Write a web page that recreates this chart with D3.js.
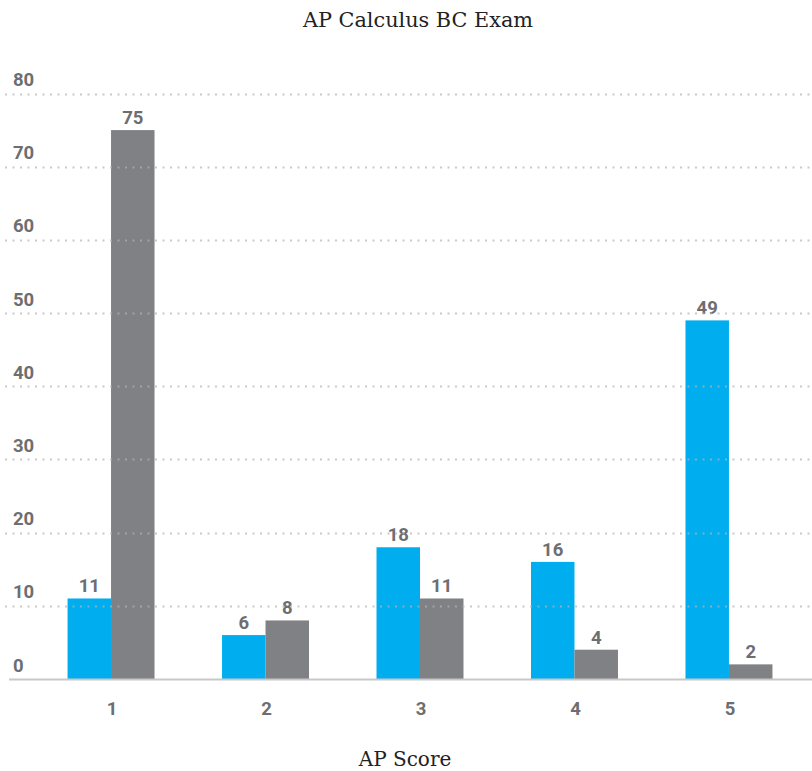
<!DOCTYPE html>
<html>
<head>
<meta charset="utf-8">
<script src="https://cdn.jsdelivr.net/npm/d3@7"></script>
<style>
  html, body { margin: 0; padding: 0; background: #fff; }
  svg { display: block; }
</style>
</head>
<body>
<svg id="chart" width="812" height="771"></svg>
<script>
// AP score buckets and the two series per score
const scores = ["1", "2", "3", "4", "5"];
const seriesA = [11, 6, 18, 16, 49];   // blue bars
const seriesB = [75, 8, 11, 4, 2];     // gray bars
const yTicks = [0, 10, 20, 30, 40, 50, 60, 70, 80];

const chartTitle = "AP Calculus BC Exam";
const xTitle = "AP Score";

const W = 812, H = 771;
const svg = d3.select("#chart");

const blue = "#00aeef";
const gray = "#808184";
const labelColor = "#6d6e71";
const numFont = "Roboto, 'Liberation Sans', sans-serif";
const serifFont = "'DejaVu Serif', serif";

const y = d3.scaleLinear().domain([0, 80]).range([679, 93.5]);

const x = d3.scaleBand()
  .domain(scores)
  .range([9, 831])
  .paddingInner(0.437)
  .paddingOuter(0.379);

const inner = d3.scaleBand()
  .domain(["a", "b"])
  .range([0, x.bandwidth()]);

// Title
svg.append("text")
  .attr("x", 418).attr("y", 27)
  .attr("text-anchor", "middle")
  .attr("font-family", serifFont)
  .attr("font-size", 20.8)
  .attr("fill", "#222")
  .text(chartTitle);

// Bars
const rows = scores.map((s, i) => ({ score: s, a: seriesA[i], b: seriesB[i] }));
const groups = svg.append("g").selectAll("g")
  .data(rows).join("g")
  .attr("transform", d => `translate(${x(d.score)},0)`);

groups.selectAll("rect")
  .data(d => [{ k: "a", v: d.a }, { k: "b", v: d.b }])
  .join("rect")
  .attr("x", d => inner(d.k))
  .attr("width", inner.bandwidth())
  .attr("y", d => y(d.v))
  .attr("height", d => y(0) - y(d.v))
  .attr("fill", d => d.k === "a" ? blue : gray);

// Value labels
groups.selectAll("text.val")
  .data(d => [{ k: "a", v: d.a }, { k: "b", v: d.b }])
  .join("text")
  .attr("class", "val")
  .attr("x", d => inner(d.k) + inner.bandwidth() / 2)
  .attr("y", d => y(d.v) - 6)
  .attr("text-anchor", "middle")
  .attr("font-family", numFont)
  .attr("font-weight", "bold")
  .attr("font-size", 18.5)
  .attr("fill", labelColor)
  .text(d => d.v);

// Dotted gridlines (drawn over bars)
const grid = svg.append("g");
grid.selectAll("line")
  .data(yTicks.filter(t => t > 0))
  .join("line")
  .attr("x1", 5).attr("x2", W)
  .attr("y1", d => Math.round(y(d)) + 0.5)
  .attr("y2", d => Math.round(y(d)) + 0.5)
  .attr("stroke", "#b4b4b4")
  .attr("stroke-opacity", 0.7)
  .attr("stroke-width", 2)
  .attr("stroke-dasharray", "2,5.5");

// Baseline
svg.append("line")
  .attr("x1", 9).attr("x2", W)
  .attr("y1", y(0) + 0.5).attr("y2", y(0) + 0.5)
  .attr("stroke", "#c8c8c8")
  .attr("stroke-width", 2);

// Y tick labels, sitting above each gridline
const yAxis = d3.axisLeft(y).tickValues(yTicks).tickSize(0).tickPadding(0);
const yg = svg.append("g").attr("transform", "translate(13,0)").call(yAxis);
yg.select(".domain").remove();
yg.selectAll("text")
  .attr("text-anchor", "start")
  .attr("dy", null)
  .attr("y", -8)
  .attr("font-family", numFont)
  .attr("font-weight", "bold")
  .attr("font-size", 18.5)
  .attr("fill", labelColor);

// X tick labels
const xAxis = d3.axisBottom(x).tickSize(0).tickPadding(0);
const xg = svg.append("g").attr("transform", "translate(1,0)").call(xAxis);
xg.select(".domain").remove();
xg.selectAll("text")
  .attr("dy", null)
  .attr("y", 715)
  .attr("font-family", numFont)
  .attr("font-weight", "bold")
  .attr("font-size", 18.5)
  .attr("fill", labelColor);

// X axis title
svg.append("text")
  .attr("x", 405).attr("y", 766)
  .attr("text-anchor", "middle")
  .attr("font-family", serifFont)
  .attr("font-size", 20)
  .attr("fill", "#222")
  .text(xTitle);
</script>
</body>
</html>
